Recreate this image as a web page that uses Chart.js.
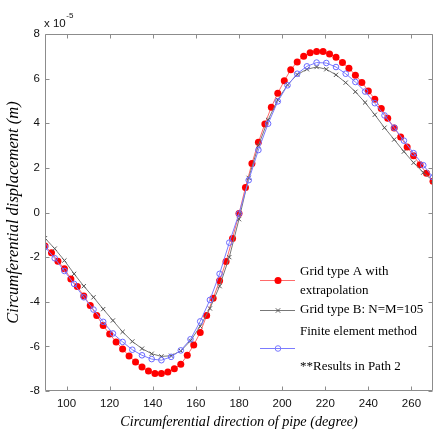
<!DOCTYPE html>
<html><head><meta charset="utf-8">
<script src="https://cdn.jsdelivr.net/npm/chart.js@4/dist/chart.umd.min.js"></script>
<style>html,body{margin:0;padding:0;background:#fff;overflow:hidden}#wrap{width:438px;height:431px;position:relative}</style>
</head><body><div id="wrap"><canvas id="c"></canvas></div>
<script>
// ---- data (units of 1e-5 m) ----
const anglesA = [90,93,96,99,102,105,108,111,114,117,120,123,126,129,132,135,138,141,144,147,150,153,156,159,162,165,168,171,174,177,180,183,186,189,192,195,198,201,204,207,210,213,216,219,222,225,228,231,234,237,240,243,246,249,252,255,258,261,264,267,270];
const gridA = [-1.50,-1.80,-2.18,-2.52,-2.98,-3.32,-3.74,-4.17,-4.62,-5.07,-5.45,-5.80,-6.12,-6.43,-6.70,-6.92,-7.10,-7.22,-7.22,-7.15,-7.00,-6.80,-6.40,-5.94,-5.38,-4.62,-3.84,-3.06,-2.20,-1.16,-0.05,1.12,2.20,3.15,3.97,4.72,5.35,5.90,6.40,6.75,7.00,7.16,7.22,7.22,7.10,6.96,6.72,6.47,6.15,5.83,5.45,5.08,4.66,4.22,3.79,3.38,2.94,2.54,2.14,1.76,1.40];
const anglesB = [90,94.5,99,103.5,108,112.5,117,121.5,126,130.5,135,139.5,144,148.5,153,157.5,162,166.5,171,175.5,180,184.5,189,193.5,198,202.5,207,211.5,216,220.5,225,229.5,234,238.5,243,247.5,252,256.5,261,265.5,270];
const gridB = [-1.15,-1.62,-2.15,-2.75,-3.30,-3.80,-4.33,-4.84,-5.35,-5.78,-6.10,-6.33,-6.45,-6.42,-6.20,-5.75,-5.10,-4.30,-3.30,-2.00,-0.30,1.55,3.00,4.15,5.05,5.72,6.18,6.42,6.52,6.42,6.17,5.82,5.41,4.93,4.38,3.80,3.27,2.73,2.23,1.79,1.42];
const anglesFEM = [90,94.5,99,103.5,108,112.5,117,121.5,126,130.5,135,139.5,144,148.5,153,157.5,162,166.5,171,175.5,180,184.5,189,193.5,198,202.5,207,211.5,216,220.5,225,229.5,234,238.5,243,247.5,252,256.5,261,265.5,270];
const fem = [-1.55,-2.05,-2.62,-3.20,-3.80,-4.35,-4.90,-5.42,-5.80,-6.15,-6.40,-6.57,-6.62,-6.47,-6.18,-5.68,-4.88,-3.92,-2.75,-1.35,-0.05,1.45,2.80,3.98,4.98,5.70,6.22,6.55,6.72,6.70,6.52,6.22,5.85,5.42,4.90,4.35,3.80,3.22,2.66,2.12,1.58];
const xTicks = [100,120,140,160,180,200,220,240,260];
const yTicks = [-8,-6,-4,-2,0,2,4,6,8];
const legendLabels = [["Grid type A with","extrapolation"],["Grid type B: N=M=105"],["Finite element method"]];
const noteText = "**Results in Path 2";
const xTitle = "Circumferential direction of pipe (degree)";
const yTitle = "Circumferential displacement (m)";

const pts = (xs, ys) => xs.map((x, i) => ({x, y: ys[i]}));

const frame = {
  id: 'frame',
  afterDatasetsDraw(chart) {
    const {ctx, chartArea: a, scales: {x, y}} = chart;
    ctx.save();
    ctx.strokeStyle = '#8c8c8c';
    ctx.lineWidth = 1;
    const L = Math.round(a.left) + 0.5, R = Math.round(a.right) - 0.5, T = Math.round(a.top) + 0.5, B = Math.round(a.bottom) - 0.5;
    ctx.beginPath();
    ctx.moveTo(L, T); ctx.lineTo(R, T); ctx.lineTo(R, B); ctx.lineTo(L, B); ctx.closePath();
    const tl = 4;
    x.ticks.forEach(t => {
      const px = Math.round(x.getPixelForValue(t.value)) + 0.5;
      ctx.moveTo(px, B); ctx.lineTo(px, B - tl);
      ctx.moveTo(px, T); ctx.lineTo(px, T + tl);
    });
    y.ticks.forEach(t => {
      const py = Math.round(y.getPixelForValue(t.value)) + 0.5;
      ctx.moveTo(L, py); ctx.lineTo(L + tl, py);
      ctx.moveTo(R, py); ctx.lineTo(R - tl, py);
    });
    ctx.stroke();
    ctx.restore();
  }
};

const extras = {
  id: 'extras',
  afterDraw(chart) {
    const ctx = chart.ctx;
    ctx.save();
    // exponent
    ctx.fillStyle = '#111';
    ctx.textBaseline = 'alphabetic';
    ctx.font = '11.5px "Liberation Sans", Arial, sans-serif';
    ctx.fillText('x 10', 44, 27);
    const w = ctx.measureText('x 10').width;
    ctx.font = '8px "Liberation Sans", Arial, sans-serif';
    ctx.fillText('-5', 44 + w + 0.5, 18);
    // legend
    const x0 = 260, x1 = 295, xm = 278, tx = 300;
    ctx.font = '13px "Liberation Serif", "Times New Roman", serif';
    ctx.textBaseline = 'middle';
    ctx.fillStyle = '#000';
    ctx.fillText(legendLabels[0][0], tx, 272);
    ctx.fillText(legendLabels[0][1], tx, 291);
    ctx.fillText(legendLabels[1][0], tx, 310);
    ctx.fillText(legendLabels[2][0], tx, 332);
    ctx.fillText(noteText, tx, 367);
    ctx.lineWidth = 1;
    // red
    ctx.strokeStyle = '#ff6a6a';
    ctx.beginPath(); ctx.moveTo(x0, 280.5); ctx.lineTo(x1, 280.5); ctx.stroke();
    ctx.fillStyle = '#ff0000';
    ctx.beginPath(); ctx.arc(xm, 280.5, 3.5, 0, Math.PI * 2); ctx.fill();
    // black
    ctx.strokeStyle = '#777';
    ctx.beginPath(); ctx.moveTo(x0, 310.5); ctx.lineTo(x1, 310.5); ctx.stroke();
    ctx.strokeStyle = '#555';
    ctx.beginPath(); ctx.moveTo(xm - 2.2, 308.3); ctx.lineTo(xm + 2.2, 312.7); ctx.moveTo(xm - 2.2, 312.7); ctx.lineTo(xm + 2.2, 308.3); ctx.stroke();
    // blue
    ctx.strokeStyle = '#7b7bff';
    ctx.beginPath(); ctx.moveTo(x0, 348.5); ctx.lineTo(x1, 348.5); ctx.stroke();
    ctx.beginPath(); ctx.arc(xm, 348.5, 2.8, 0, Math.PI * 2); ctx.stroke();
    ctx.restore();
  }
};

new Chart(document.getElementById('c'), {
  type: 'line',
  data: {
    datasets: [
      { label: 'Finite element method', data: pts(anglesFEM, fem), order: 0,
        borderColor: '#7b7bff', borderWidth: 1, pointStyle: 'circle', pointRadius: 2.8,
        pointBorderColor: '#6a6aff', pointBackgroundColor: 'rgba(255,255,255,0)', pointBorderWidth: 1 },
      { label: 'Grid type B: N=M=105', data: pts(anglesB, gridB), order: 1,
        borderColor: '#777', borderWidth: 1, pointStyle: 'crossRot', pointRadius: 3,
        pointBorderColor: '#555', pointBorderWidth: 1 },
      { label: 'Grid type A with extrapolation', data: pts(anglesA, gridA), order: 2,
        borderColor: '#ff6a6a', borderWidth: 1, pointStyle: 'circle', pointRadius: 3.5,
        pointBorderColor: '#ff0000', pointBackgroundColor: '#ff0000', pointBorderWidth: 0 }
    ]
  },
  options: {
    responsive: true, maintainAspectRatio: false, animation: false,
    layout: { padding: { top: 34, left: 0, right: 0, bottom: 0 } },
    plugins: { legend: { display: false }, tooltip: { enabled: false } },
    elements: { line: { tension: 0 } },
    scales: {
      x: {
        type: 'linear', min: 90, max: 270,
        afterBuildTicks: s => { s.ticks = xTicks.map(v => ({value: v})); },
        afterFit: s => { s.height = 40; },
        grid: { display: false, drawTicks: false },
        border: { display: false },
        ticks: { padding: 6, color: '#111', font: { family: '"Liberation Sans", Arial, sans-serif', size: 11.5 }, maxRotation: 0, autoSkip: false, callback: v => String(v) },
        title: { display: true, text: xTitle, color: '#000', padding: { top: 0, bottom: 0 },
          font: { family: '"Liberation Serif", "Times New Roman", serif', size: 14.2, style: 'italic' } }
      },
      y: {
        type: 'linear', min: -8, max: 8,
        afterBuildTicks: s => { s.ticks = yTicks.map(v => ({value: v})); },
        afterFit: s => { s.width = 45; },
        grid: { display: false, drawTicks: false },
        border: { display: false },
        ticks: { padding: 5, color: '#111', font: { family: '"Liberation Sans", Arial, sans-serif', size: 11.5 }, autoSkip: false, callback: v => String(v) },
        title: { display: true, text: yTitle, color: '#000', padding: { top: 4, bottom: 0 },
          font: { family: '"Liberation Serif", "Times New Roman", serif', size: 16.5, style: 'italic' } }
      }
    }
  },
  plugins: [frame, extras]
});
</script>
</body></html>
